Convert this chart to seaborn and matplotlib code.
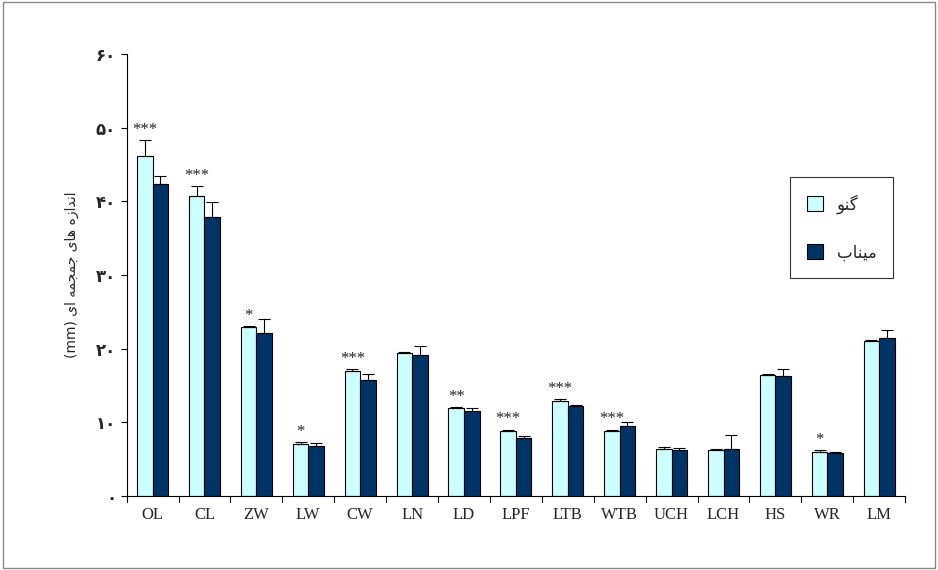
import numpy as np
import pandas as pd
import seaborn as sns
import matplotlib.pyplot as plt
from matplotlib.patches import Rectangle

categories = ["OL", "CL", "ZW", "LW", "CW", "LN", "LD", "LPF", "LTB", "WTB", "UCH", "LCH", "HS", "WR", "LM"]
gnu_vals = [46.1, 40.8, 22.9, 7.1, 17.0, 19.4, 11.9, 8.8, 12.9, 8.8, 6.4, 6.2, 16.4, 6.0, 21.0]
gnu_err = [2.2, 1.3, 0.2, 0.2, 0.2, 0.2, 0.2, 0.2, 0.2, 0.2, 0.2, 0.2, 0.2, 0.2, 0.2]
minab_vals = [42.3, 37.9, 22.1, 6.8, 15.7, 19.1, 11.5, 7.9, 12.2, 9.5, 6.2, 6.4, 16.3, 5.8, 21.4]
minab_err = [1.1, 2.0, 1.9, 0.4, 0.8, 1.3, 0.5, 0.2, 0.2, 0.5, 0.3, 1.9, 0.9, 0.2, 1.2]
stars = ["***", "***", "*", "*", "***", "", "**", "***", "***", "***", "", "", "", "*", ""]
yticks = [0, 10, 20, 30, 40, 50, 60]
ytick_labels = ["۰", "۱۰", "۲۰", "۳۰", "۴۰", "۵۰", "۶۰"]
# Persian labels written in visual order with presentation forms
label_gnu = "\uFEEE\uFEE8\uFB94"
label_minab = "\uFE8F\uFE8E\uFEE8\uFBFF\uFEE3"
ylabel = "(mm) \uFBFC\uFE8D \uFEEA\uFEE4\uFEA0\uFEE4\uFE9F \uFBFC\uFE8E\uFEEB \uFEE9\uFEAF\uFE8D\uFEAA\uFEE7\uFE8D"

df = pd.DataFrame({
    "cat": categories * 2,
    "val": gnu_vals + minab_vals,
    "grp": [label_gnu] * len(categories) + [label_minab] * len(categories),
})

sns.set_style("white")
plt.rcParams["font.family"] = ["Liberation Serif", "DejaVu Sans"]
fig, ax = plt.subplots(figsize=(9.38, 5.70), dpi=100)
fig.subplots_adjust(left=0.135, right=0.965, top=0.905, bottom=0.13)

sns.barplot(data=df, x="cat", y="val", hue="grp", ax=ax,
            palette=["#ccffff", "#003366"], edgecolor="black", linewidth=0.8,
            width=0.6, gap=0, errorbar=None, saturation=1)

w = 0.3
x = np.arange(len(categories))
ax.errorbar(x - w / 2, gnu_vals, yerr=[np.zeros(len(x)), gnu_err], fmt="none",
            ecolor="black", elinewidth=0.8, capsize=4, capthick=0.8)
ax.errorbar(x + w / 2, minab_vals, yerr=[np.zeros(len(x)), minab_err], fmt="none",
            ecolor="black", elinewidth=0.8, capsize=4, capthick=0.8)
for i, s in enumerate(stars):
    if s:
        ax.text(x[i] - w / 2, gnu_vals[i] + gnu_err[i] + 0.3, s, ha="center", va="bottom", fontsize=12)

ax.set_ylim(0, 60)
ax.set_xlim(-0.5, len(categories) - 0.5)
ax.set_yticks(yticks)
ax.set_yticklabels(ytick_labels, fontsize=12, fontweight="bold", family=["DejaVu Sans"])
ax.set_xticks(x)
ax.set_xticklabels(categories, fontsize=12)
ax.set_xlabel("")
ax.set_ylabel(ylabel, fontsize=10, family=["DejaVu Sans"], labelpad=12)
for sp in ["top", "right"]:
    ax.spines[sp].set_visible(False)
for sp in ["left", "bottom"]:
    ax.spines[sp].set_color("black")
    ax.spines[sp].set_linewidth(0.8)
ax.tick_params(axis="y", direction="out", length=4, color="black", left=True)
ax.tick_params(axis="x", length=0, pad=8)
for b in np.arange(-0.5, len(categories), 1.0):
    ax.plot([b, b], [0, -0.8], color="black", lw=0.8, clip_on=False)

leg = ax.legend(loc="upper right", bbox_to_anchor=(0.995, 0.74), frameon=True,
                prop={"family": "DejaVu Sans", "size": 12}, labelspacing=1.8,
                handlelength=1.0, handleheight=1.0, fancybox=False, borderpad=1.0)
leg.get_frame().set_edgecolor("black")
leg.get_frame().set_linewidth(0.8)

fig.patches.append(Rectangle((0.003, 0.003), 0.994, 0.994, transform=fig.transFigure,
                             fill=False, edgecolor="#888888", lw=1))
fig.savefig("out.png", dpi=100)
